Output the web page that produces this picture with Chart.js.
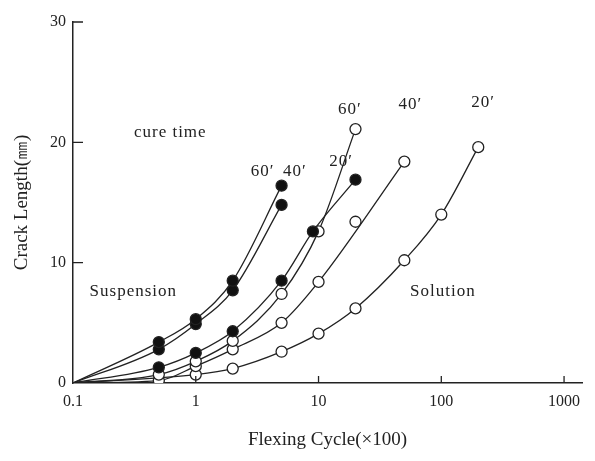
<!DOCTYPE html>
<html>
<head>
<meta charset="utf-8">
<script src="https://cdn.jsdelivr.net/npm/chart.js@4.4.1/dist/chart.umd.min.js"></script>
<style>
  html, body { margin: 0; padding: 0; background: #fff; }
  #wrap { width: 595px; height: 461px; }
</style>
</head>
<body>
<div id="wrap"><canvas id="c"></canvas></div>
<script>
// axis ticks
const xTicks = [0.1, 1, 10, 100, 1000];
const yTicks = [0, 10, 20, 30];

// Suspension (filled circles), cure time 60', 40', 20'
const suspX60 = [0.1, 0.5, 1, 2, 5];
const susp60 = [0, 3.4, 5.3, 8.5, 16.4];
const suspX40 = [0.1, 0.5, 1, 2, 5];
const susp40 = [0, 2.8, 4.9, 7.7, 14.8];
const suspX20 = [0.1, 0.5, 1, 2, 5, 9, 20];
const susp20 = [0, 1.3, 2.5, 4.3, 8.5, 12.6, 16.9];

// Solution (open circles), cure time 60', 40', 20'
const solX60 = [0.1, 0.5, 1, 2, 5, 10, 20];
const sol60 = [0, 0.7, 1.8, 3.5, 7.4, 12.6, 21.1];
const solX40 = [0.1, 0.5, 1, 2, 5, 10, 50];
const sol40 = [0, 0.2, 1.4, 2.8, 5.0, 8.4, 18.4];
const solX20 = [0.1, 1, 2, 5, 10, 20, 50, 100, 200];
const sol20 = [0, 0.7, 1.2, 2.6, 4.1, 6.2, 10.2, 14.0, 19.6];
// open point sitting just off the 40' curve
const strayX = [20];
const stray = [13.4];

// text placed on the plot, in data units
const notes = [
  { text: 'cure time', x: 0.62, y: 20.8 },
  { text: '60′', x: 3.5, y: 17.6 },
  { text: '40′', x: 6.4, y: 17.6 },
  { text: '20′', x: 15.3, y: 18.4 },
  { text: '60′', x: 18, y: 22.7 },
  { text: '40′', x: 56, y: 23.1 },
  { text: '20′', x: 219, y: 23.3 },
  { text: 'Suspension', x: 0.31, y: 7.6 },
  { text: 'Solution', x: 103, y: 7.6 },
];

const INK = '#222';
const SERIF = "'Liberation Serif', 'Times New Roman', serif";

function pts(xs, ys) {
  return xs.map((x, i) => ({ x, y: ys[i] }));
}

function series(xs, ys, filled) {
  return {
    data: pts(xs, ys),
    showLine: true,
    borderColor: INK,
    borderWidth: 1.3,
    cubicInterpolationMode: 'monotone',
    pointBackgroundColor: filled ? '#111' : '#fff',
    pointBorderColor: INK,
    pointBorderWidth: 1.3,
    pointRadius: ctx => (ctx.raw && ctx.raw.x === 0.1 ? 0 : 5.5),
  };
}

const notesPlugin = {
  id: 'notes',
  afterDatasetsDraw(chart) {
    const { ctx, scales: { x, y } } = chart;
    ctx.save();
    ctx.fillStyle = INK;
    ctx.font = '17px ' + SERIF;
    ctx.letterSpacing = '1px';
    ctx.textAlign = 'center';
    ctx.textBaseline = 'middle';
    notes.forEach(n => {
      ctx.fillText(n.text, x.getPixelForValue(n.x), y.getPixelForValue(n.y));
    });
    ctx.restore();
  }
};

// short tick marks pointing into the plot
const innerTicks = {
  id: 'innerTicks',
  afterDraw(chart) {
    const { ctx, chartArea, scales: { x, y } } = chart;
    ctx.save();
    ctx.strokeStyle = INK;
    ctx.lineWidth = 1.3;
    ctx.beginPath();
    yTicks.slice(1).forEach(v => {
      const py = y.getPixelForValue(v);
      ctx.moveTo(chartArea.left, py);
      ctx.lineTo(chartArea.left + 10, py);
    });
    xTicks.slice(1).forEach(v => {
      const px = x.getPixelForValue(v);
      ctx.moveTo(px, chartArea.bottom);
      ctx.lineTo(px, chartArea.bottom - 7);
    });
    ctx.stroke();
    ctx.restore();
  }
};

new Chart(document.getElementById('c'), {
  type: 'scatter',
  data: {
    datasets: [
      series(suspX60, susp60, true),
      series(suspX40, susp40, true),
      series(suspX20, susp20, true),
      series(solX60, sol60, false),
      series(solX40, sol40, false),
      series(solX20, sol20, false),
      Object.assign(series(strayX, stray, false), { showLine: false }),
    ]
  },
  options: {
    responsive: true,
    maintainAspectRatio: false,
    animation: false,
    layout: { padding: { left: 0, right: 13, top: 22, bottom: 0 } },
    plugins: {
      legend: { display: false },
      tooltip: { enabled: false },
    },
    scales: {
      x: {
        type: 'logarithmic',
        min: 0.1,
        max: 1400,
        afterBuildTicks: s => { s.ticks = xTicks.map(v => ({ value: v })); },
        afterFit: s => { s.height = 78; },
        grid: { drawOnChartArea: false, drawTicks: false },
        border: { display: true, color: INK, width: 1.5 },
        ticks: {
          autoSkip: false,
          maxRotation: 0,
          padding: 9,
          color: INK,
          font: { family: SERIF, size: 16 },
          callback: v => String(v),
        },
        title: {
          display: true,
          text: 'Flexing Cycle(×100)',
          color: INK,
          font: { family: SERIF, size: 19 },
          padding: { top: 0, bottom: 10 },
        },
      },
      y: {
        min: 0,
        max: 30,
        afterBuildTicks: s => { s.ticks = yTicks.map(v => ({ value: v })); },
        afterFit: s => { s.width = 73; },
        grid: { drawOnChartArea: false, drawTicks: false },
        border: { display: true, color: INK, width: 1.5 },
        ticks: {
          padding: 7,
          color: INK,
          font: { family: SERIF, size: 16 },
        },
        title: {
          display: true,
          text: 'Crack Length(㎜)',
          color: INK,
          font: { family: SERIF, size: 19 },
          padding: { top: 11, bottom: 0 },
        },
      },
    },
  },
  plugins: [notesPlugin, innerTicks],
});
</script>
</body>
</html>
